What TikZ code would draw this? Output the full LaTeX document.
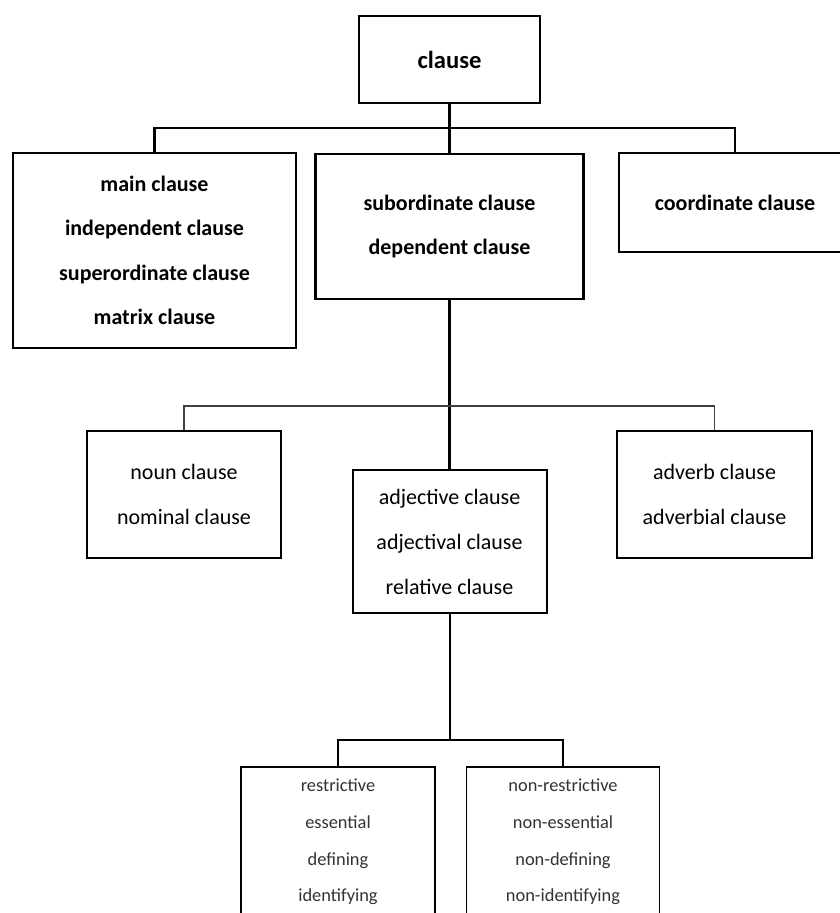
\documentclass[tikz,border=0pt]{standalone}
\usepackage{fontspec}
\setmainfont{Carlito}
\begin{document}
\begin{tikzpicture}[x=1pt,y=-1pt,
  boxA/.style={draw=black, line width=2.2pt, fill=white, align=center, inner sep=0pt,
    font=\fontsize{22}{44.5}\selectfont\bfseries},
  boxB/.style={draw=black, line width=2pt, fill=white, align=center, inner sep=0pt,
    font=\fontsize{22}{45}\selectfont},
  boxC/.style={draw=black, line width=1.8pt, fill=white, align=center, inner sep=0pt,
    text=black!80, font=\fontsize{18.4}{36.7}\selectfont},
  linkA/.style={line width=2.2pt, draw=black},
  linkB/.style={line width=1.4pt, draw=black!75},
  linkC/.style={line width=2pt, draw=black}]
\useasboundingbox (0,0) rectangle (840,913);
\fill[white] (0,0) rectangle (840,913);

% level 0
\node[boxA, minimum width=181pt, minimum height=87pt, font=\fontsize{24.6}{30}\selectfont\bfseries]
  (clause) at (449.5,59.5) {clause};

% level 1
\node[boxA, minimum width=283pt, minimum height=195pt] (main) at (154.5,250.5)
  {main clause\\independent clause\\superordinate clause\\matrix clause};
\node[boxA, minimum width=268pt, minimum height=145pt] (sub) at (449.5,226.5)
  {subordinate clause\\dependent clause};
\node[boxA, minimum width=232pt, minimum height=99pt] (coord) at (735,202.5)
  {coordinate clause};

\coordinate (j1) at (449.5,128);
\draw[linkA] (clause.south) -- (sub.north);
\draw[linkA] (main.north) |- (j1) -| (coord.north);

% level 2
\node[boxB, minimum width=194pt, minimum height=127pt] (noun) at (184,494.5)
  {noun clause\\nominal clause};
\node[boxB, minimum width=194pt, minimum height=143pt] (adj) at (449.5,541.5)
  {adjective clause\\adjectival clause\\relative clause};
\node[boxB, minimum width=195pt, minimum height=127pt] (adv) at (714.5,494.5)
  {adverb clause\\adverbial clause};

\coordinate (j2) at (449.5,406);
\draw[linkA] (sub.south) -- (adj.north);
\draw[linkB] (noun.north) |- (j2) -| (adv.north);

% level 3
\node[boxC, minimum width=194pt, minimum height=150pt] (restr) at (338,842)
  {restrictive\\essential\\defining\\identifying};
\node[boxC, minimum width=193pt, minimum height=150pt] (nonr) at (563,842)
  {non-restrictive\\non-essential\\non-defining\\non-identifying};

\coordinate (j3) at (449.5,740);
\draw[linkC] (adj.south) -- (j3);
\draw[linkC] (restr.north) |- (j3) -| (nonr.north);
\end{tikzpicture}
\end{document}
